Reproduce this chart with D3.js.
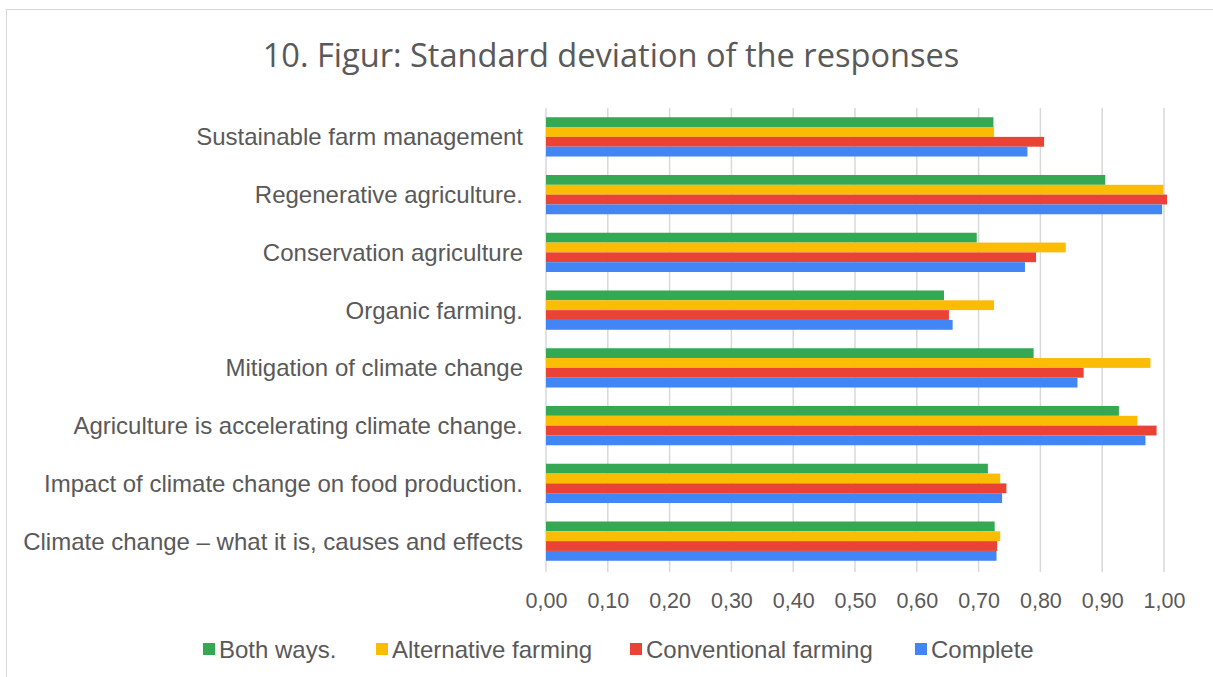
<!DOCTYPE html>
<html><head><meta charset="utf-8">
<script src="https://cdn.jsdelivr.net/npm/d3@7/dist/d3.min.js"></script>
<style>html,body{margin:0;padding:0;background:#fff;}svg{display:block;}</style>
</head><body>
<svg id="chart" width="1213" height="677"></svg>
<script>
const title = "10. Figur: Standard deviation of the responses";
const categories = [
  "Sustainable farm management",
  "Regenerative agriculture.",
  "Conservation agriculture",
  "Organic farming.",
  "Mitigation of climate change",
  "Agriculture is accelerating climate change.",
  "Impact of climate change on food production.",
  "Climate change \u2013 what it is, causes and effects"
];
const seriesNames = ["Both ways.", "Alternative farming", "Conventional farming", "Complete"];
const seriesColors = ["#34A853", "#FBBC04", "#EA4335", "#4285F4"];
const bothWays     = [0.724, 0.905, 0.697, 0.644, 0.789, 0.927, 0.715, 0.726];
const alternative  = [0.725, 0.999, 0.841, 0.725, 0.978, 0.957, 0.735, 0.735];
const conventional = [0.806, 1.005, 0.793, 0.652, 0.870, 0.988, 0.745, 0.730];
const complete     = [0.779, 0.997, 0.775, 0.658, 0.860, 0.970, 0.738, 0.729];
const seriesValues = [bothWays, alternative, conventional, complete];
const tickValues = [0, 0.1, 0.2, 0.3, 0.4, 0.5, 0.6, 0.7, 0.8, 0.9, 1.0];

(function () {
const svg = d3.select("#chart");
const font = "'Liberation Sans', Arial, sans-serif";
const textColor = "#595959";

svg.append("rect").attr("x", 6.5).attr("y", 9.5).attr("width", 1220).attr("height", 700)
  .attr("fill", "#fff").attr("stroke", "#d9d9d9").attr("stroke-width", 1);

const pLeft = 546, pRight = 1164, pTop = 108, pBottom = 570;
const x = d3.scaleLinear().domain([0, 1]).range([pLeft, pRight]);
const y = d3.scaleBand().domain(categories).range([pTop, pBottom]).paddingInner(0.32).paddingOuter(0.16);
const ySub = d3.scaleBand().domain(seriesNames).range([0, y.bandwidth()]);

svg.append("g").selectAll("line").data(tickValues).join("line")
  .attr("x1", d => x(d)).attr("x2", d => x(d))
  .attr("y1", pTop).attr("y2", pBottom + 2)
  .attr("stroke", "#d9d9d9").attr("stroke-width", 1.5);

const rows = [];
categories.forEach((c, i) => seriesNames.forEach((s, j) => rows.push({c, s, j, v: seriesValues[j][i]})));
svg.append("g").selectAll("rect").data(rows).join("rect")
  .attr("x", x(0))
  .attr("y", d => y(d.c) + ySub(d.s))
  .attr("width", d => x(d.v) - x(0))
  .attr("height", ySub.bandwidth())
  .attr("fill", d => seriesColors[d.j]);

svg.append("g").selectAll("text").data(categories).join("text")
  .attr("x", 523).attr("y", d => y(d) + y.bandwidth() / 2)
  .attr("text-anchor", "end").attr("dominant-baseline", "central")
  .attr("font-family", font).attr("font-size", 24).attr("fill", textColor)
  .text(d => d);

const xAxis = d3.axisBottom(x).tickValues(tickValues)
  .tickFormat(d => d3.format(".2f")(d).replace(".", ",")).tickSize(0).tickPadding(0);
const ax = svg.append("g").attr("transform", `translate(0,${pBottom})`).call(xAxis);
ax.select(".domain").remove();
ax.selectAll("text").attr("y", 38).attr("dy", null)
  .attr("font-family", font).attr("font-size", 21.5).attr("fill", textColor);

svg.append("text").attr("x", 611).attr("y", 67).attr("text-anchor", "middle")
  .attr("font-family", "'Open Sans', sans-serif").attr("font-size", 32.6).attr("fill", textColor)
  .text(title);

const legendX = [203, 376, 630, 915];
const lg = svg.append("g").selectAll("g").data(seriesNames).join("g")
  .attr("transform", (d, i) => `translate(${legendX[i]},649)`);
lg.append("rect").attr("x", 0).attr("y", -6).attr("width", 12).attr("height", 12)
  .attr("fill", (d, i) => seriesColors[i]);
lg.append("text").attr("x", 16).attr("y", 0).attr("dominant-baseline", "central")
  .attr("font-family", font).attr("font-size", 24).attr("fill", textColor)
  .text(d => d);
})();
</script>
</body></html>
